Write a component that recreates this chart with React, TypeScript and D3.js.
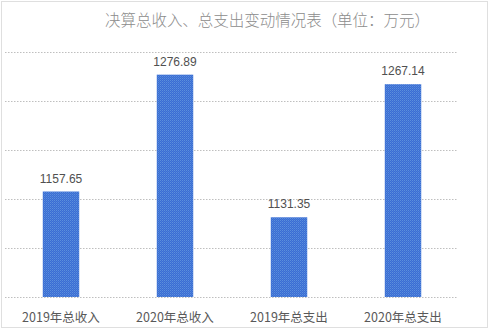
import React from "react";
import * as d3 from "d3";

const categories = ["2019年总收入", "2020年总收入", "2019年总支出", "2020年总支出"];
const values = [1157.65, 1276.89, 1131.35, 1267.14];
const yTicks = [1050, 1100, 1150, 1200, 1250, 1300];
const title = "决算总收入、总支出变动情况表（单位：万元）";

export default function App() {
  const W = 488, H = 328;
  const x = d3.scaleBand<string>().domain(categories).range([4, 460]).paddingInner(0.68).paddingOuter(0.34);
  const y = d3.scaleLinear().domain([1050, 1300]).range([297, 52]);
  return (
    <svg width={W} height={H} style={{ position: "absolute", left: 0, top: 0 }}>
      <defs>
        <pattern id="chk" width="2" height="2" patternUnits="userSpaceOnUse">
          <rect width="2" height="2" fill="#3a6cd4" />
          <rect x="0" y="0" width="1" height="1" fill="#5b8fdc" />
          <rect x="1" y="1" width="1" height="1" fill="#4a7ed8" />
        </pattern>
      </defs>
      <rect x={0} y={0} width={W} height={H} fill="#fff" />
      <rect x={1.5} y={1.5} width={W - 2} height={H - 2} fill="none" stroke="#bfbfbf" strokeDasharray="1,1" />
      <text x={105} y={26} textLength={325} lengthAdjust="spacing" fontFamily="'Noto Sans CJK SC'" fontSize={15.5} fill="#8c8c8c" fontWeight={300}>{title}</text>
      {yTicks.map((t) => (
        <line key={t} x1={5} x2={458} y1={Math.round(y(t)) + 0.5} y2={Math.round(y(t)) + 0.5} stroke="#bfbfbf" strokeDasharray="1.5,1.5" />
      ))}
      {categories.map((c, i) => (
        <g key={c}>
          <rect x={x(c)} y={y(values[i])} width={x.bandwidth()} height={y(1050) - y(values[i])} fill="url(#chk)" />
          <text x={x(c)! + x.bandwidth() / 2} y={y(values[i]) - 9} textAnchor="middle" fontFamily="'Liberation Sans', Arial" fontSize={12} fill="#505050">{values[i].toFixed(2)}</text>
          <text x={x(c)! + x.bandwidth() / 2} y={322} textAnchor="middle" fontFamily="'Noto Sans CJK SC'" fontSize={12.5} fill="#595959">{c}</text>
        </g>
      ))}
    </svg>
  );
}
